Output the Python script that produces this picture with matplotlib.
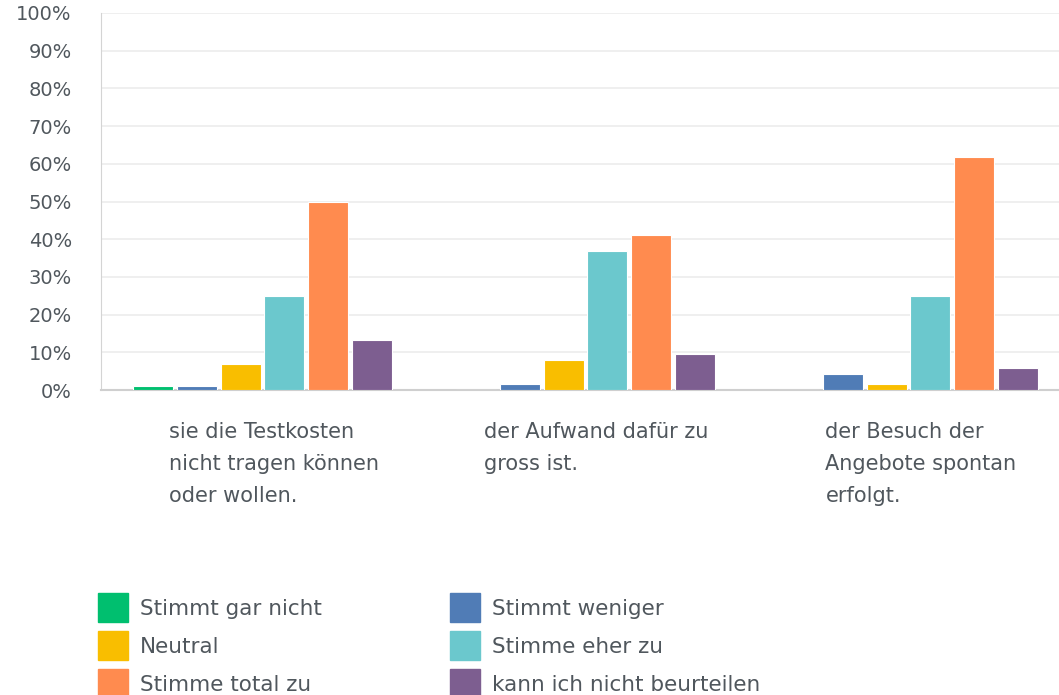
import matplotlib.pyplot as plt
from matplotlib.patches import Patch
import numpy as np

# data (percent)
categories = ["sie die Testkosten\nnicht tragen können\noder wollen.",
              "der Aufwand dafür zu\ngross ist.",
              "der Besuch der\nAngebote spontan\nerfolgt."]
series = ["Stimmt gar nicht", "Stimmt weniger", "Neutral",
          "Stimme eher zu", "Stimme total zu", "kann ich nicht beurteilen"]
gar_nicht = [1.1, 0.0, 0.0]
weniger = [1.1, 1.6, 4.2]
neutral = [6.9, 8.0, 1.6]
eher_zu = [25.0, 36.9, 25.0]
total_zu = [50.0, 41.1, 61.8]
nicht_beurteilen = [13.3, 9.5, 5.8]
yticks = [0, 10, 20, 30, 40, 50, 60, 70, 80, 90, 100]

colors = ["#00bf6f", "#507cb6", "#f9be00", "#6bc8cd", "#ff8b4f", "#7d5e90"]
values = [gar_nicht, weniger, neutral, eher_zu, total_zu, nicht_beurteilen]

txt = "#50575d"
plt.rcParams['font.family'] = ['DejaVu Sans']

fig = plt.figure(figsize=(10.59, 6.95), dpi=100)
ax = fig.add_axes([101/1059, 305/695, 969/1059, 377/695])

x = np.arange(len(categories))
step = 0.136
w = 0.124
for i, (name, vals) in enumerate(zip(series, values)):
    ax.bar(x + (i - 2.5) * step, vals, width=w, color=colors[i],
           edgecolor="white", linewidth=0.8, zorder=3, label=name)

ax.set_xlim(-0.5, 2.5)
ax.set_ylim(0, 100)
ax.set_yticks(yticks)
ax.set_yticklabels([f"{t}%" for t in yticks], color=txt, fontsize=14)
ax.tick_params(axis="y", length=0, pad=21)
ax.set_xticks([])
ax.grid(axis="y", color="#ececec", linewidth=1.2, zorder=0)
for s in ["top", "right"]:
    ax.spines[s].set_visible(False)
ax.spines["left"].set_color("#d4d4d4")
ax.spines["bottom"].set_color("#cfcfcf")
ax.spines["bottom"].set_linewidth(1.5)

# category labels, left-aligned blocks under each group
offsets = [-0.288, -0.313, -0.257]
for xi, lab, off in zip(x, categories, offsets):
    ax.text(xi + off, -8.5, lab, ha="left", va="top", fontsize=15,
            color=txt, linespacing=1.75, transform=ax.transData)

# legend: two separate columns
cols = [[0, 2, 4], [1, 3, 5]]
lefts = [98, 450]
for idx, left in zip(cols, lefts):
    handles = [Patch(facecolor=colors[i], edgecolor=colors[i]) for i in idx]
    labels = [series[i] for i in idx]
    leg = fig.legend(handles, labels, loc="upper left",
                     bbox_to_anchor=(left/1059, 1 - 593/695), frameon=False,
                     fontsize=15.5, handlelength=1.4, handleheight=1.7,
                     handletextpad=0.55, labelspacing=0.42, borderpad=0,
                     borderaxespad=0)
    for t in leg.get_texts():
        t.set_color(txt)

fig.savefig("out.png", dpi=100)
